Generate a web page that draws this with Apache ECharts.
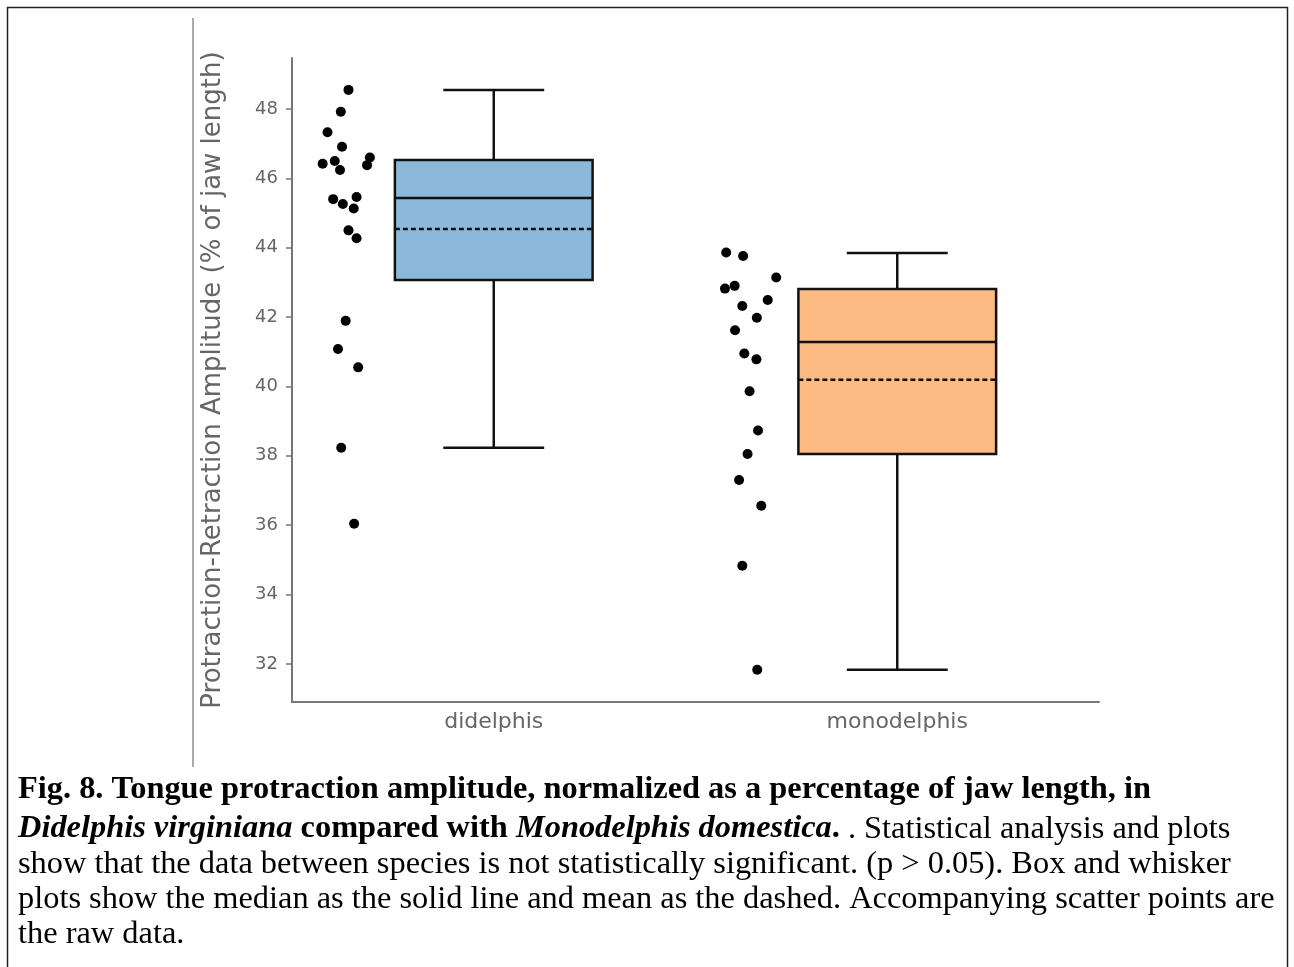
<!DOCTYPE html>
<html>
<head>
<meta charset="utf-8">
<script src="https://cdn.jsdelivr.net/npm/echarts@6/dist/echarts.min.js"></script>
<style>
html,body{margin:0;padding:0;background:#fff;}
#chart{width:1294px;height:967px;}
</style>
</head>
<body>
<div id="chart"></div>
<script>
// ---- data ----
var categories = ['didelphis', 'monodelphis'];
var yTicks = [32, 34, 36, 38, 40, 42, 44, 46, 48];

// box statistics: [min whisker, Q1, median, Q3, max whisker]
var didelphisBox = [38.23, 43.07, 45.43, 46.53, 48.55];
var monodelphisBox = [31.83, 38.05, 41.28, 42.81, 43.85];
var means = [44.54, 40.19];

// raw data points
var didelphisValues = [48.55, 47.92, 47.33, 46.91, 46.42, 46.50, 46.24, 46.60, 46.38, 45.40,
  45.26, 45.46, 45.13, 44.50, 44.27, 41.89, 41.08, 40.55, 38.23, 36.04];
var didelphisJitter = [-0.360, -0.379, -0.412, -0.376, -0.424, -0.394, -0.381, -0.307, -0.314, -0.398,
  -0.374, -0.340, -0.347, -0.360, -0.340, -0.367, -0.386, -0.336, -0.378, -0.346];
var monodelphisValues = [43.86, 43.76, 43.14, 42.82, 42.90, 42.49, 42.32, 41.98, 41.62, 40.95,
  40.78, 39.86, 38.73, 38.05, 37.30, 36.56, 34.83, 31.83];
var monodelphisJitter = [-0.424, -0.382, -0.300, -0.427, -0.403, -0.321, -0.384, -0.348, -0.402, -0.379,
  -0.349, -0.366, -0.345, -0.371, -0.392, -0.337, -0.384, -0.347];

var boxColors = ['#8cb9da', '#fdbb84'];

// ---- build ----
var boxData = [didelphisBox, monodelphisBox].map(function (b, i) {
  return [i].concat(b).concat([means[i]]);
});
function pts(vals, jit, idx) {
  return vals.map(function (v, k) { return [idx + jit[k], v]; });
}
var scatterData = pts(didelphisValues, didelphisJitter, 0).concat(pts(monodelphisValues, monodelphisJitter, 1));

function renderBox(params, api) {
  var idx = api.value(0);
  var mn = api.coord([idx, api.value(1)]);
  var q1 = api.coord([idx, api.value(2)]);
  var md = api.coord([idx, api.value(3)]);
  var q3 = api.coord([idx, api.value(4)]);
  var mx = api.coord([idx, api.value(5)]);
  var me = api.coord([idx, api.value(6)]);
  var band = api.size([1, 0])[0];
  var bw = band * 0.49, cw = band * 0.25;
  var cx = mn[0];
  var stroke = {stroke: '#111', lineWidth: 2.5};
  return {
    type: 'group',
    children: [
      {type: 'line', shape: {x1: cx, y1: mn[1], x2: cx, y2: q1[1]}, style: stroke},
      {type: 'line', shape: {x1: cx, y1: q3[1], x2: cx, y2: mx[1]}, style: stroke},
      {type: 'line', shape: {x1: cx - cw / 2, y1: mn[1], x2: cx + cw / 2, y2: mn[1]}, style: stroke},
      {type: 'line', shape: {x1: cx - cw / 2, y1: mx[1], x2: cx + cw / 2, y2: mx[1]}, style: stroke},
      {type: 'rect', shape: {x: cx - bw / 2, y: q3[1], width: bw, height: q1[1] - q3[1]},
        style: {fill: boxColors[params.dataIndex], stroke: '#111', lineWidth: 2.5}},
      {type: 'line', shape: {x1: cx - bw / 2, y1: md[1], x2: cx + bw / 2, y2: md[1]}, style: stroke},
      {type: 'line', shape: {x1: cx - bw / 2, y1: me[1], x2: cx + bw / 2, y2: me[1]},
        style: {stroke: '#111', lineWidth: 2.5, lineDash: [5, 3]}}
    ]
  };
}

var capFont = 'Liberation Serif';
var capSize = 32.4;
var capRich = {
  b: {fontFamily: capFont, fontWeight: 'bold', fontSize: capSize, color: '#000'},
  bi: {fontFamily: capFont, fontWeight: 'bold', fontStyle: 'italic', fontSize: capSize, color: '#000'},
  n: {fontFamily: capFont, fontSize: capSize, color: '#000'}
};
var captionLines = [
  '{b|Fig. 8. Tongue protraction amplitude, normalized as a percentage of jaw length, in}',
  '{bi|Didelphis virginiana}{b| compared with }{bi|Monodelphis domestica}{b|.}{n| . Statistical analysis and plots}',
  '{n|show that the data between species is not statistically significant. (p > 0.05). Box and whisker}',
  '{n|plots show the median as the solid line and mean as the dashed. Accompanying scatter points are}',
  '{n|the raw data.}'
];
var captionY = [790, 829, 864, 899, 934];
var graphics = [
  {type: 'rect', shape: {x: 7.5, y: 7.5, width: 1280, height: 980}, style: {fill: 'none', stroke: '#222', lineWidth: 1.5}, silent: true},
  {type: 'line', shape: {x1: 193, y1: 18, x2: 193, y2: 767}, style: {stroke: '#aaa', lineWidth: 2}, silent: true}
];
captionLines.forEach(function (t, i) {
  graphics.push({
    type: 'text', x: 18, y: captionY[i],
    style: {text: t, rich: capRich, verticalAlign: 'middle', align: 'left'}
  });
});

var chart = echarts.init(document.getElementById('chart'), null, {renderer: 'canvas'});
chart.setOption({
  animation: false,
  backgroundColor: '#fff',
  grid: {left: 292, right: 195, top: 58, bottom: 265, containLabel: false},
  xAxis: [{
    type: 'category', data: categories,
    axisLine: {show: true, lineStyle: {color: '#777', width: 2}},
    axisTick: {show: false},
    axisLabel: {color: '#666', fontFamily: 'DejaVu Sans', fontSize: 22, margin: 9}
  }, {
    type: 'value', min: -0.5, max: 1.5, show: false
  }],
  yAxis: {
    type: 'value', min: 30.9, max: 49.47,
    name: 'Protraction-Retraction Amplitude (% of jaw length)',
    nameLocation: 'middle', nameGap: 66,
    nameTextStyle: {color: '#666', fontFamily: 'DejaVu Sans', fontSize: 26},
    axisLine: {show: true, onZero: false, lineStyle: {color: '#777', width: 2}},
    axisTick: {show: true, length: 6, customValues: yTicks, lineStyle: {color: '#777', width: 1.5}},
    axisLabel: {color: '#666', fontFamily: 'DejaVu Sans', fontSize: 18, margin: 14, customValues: yTicks},
    splitLine: {show: false}
  },
  series: [{
    type: 'custom', xAxisIndex: 0, renderItem: renderBox, data: boxData, z: 2,
    encode: {x: 0, y: [1, 2, 3, 4, 5, 6]}
  }, {
    type: 'scatter', xAxisIndex: 1, data: scatterData, symbolSize: 10,
    itemStyle: {color: '#000', opacity: 1}, z: 3
  }],
  graphic: graphics
});
</script>
</body>
</html>
